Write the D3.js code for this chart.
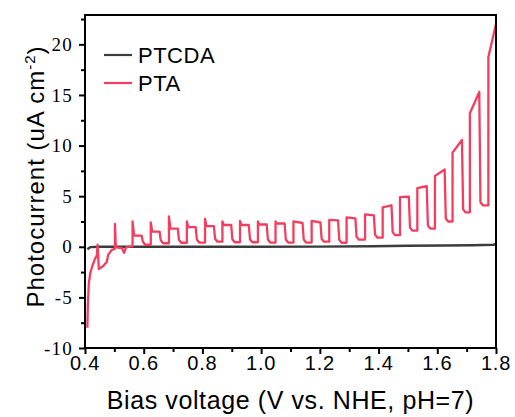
<!DOCTYPE html>
<html>
<head>
<meta charset="utf-8">
<script src="https://cdn.jsdelivr.net/npm/d3@7"></script>
<style>
  body { margin: 0; background: #fff; }
  svg { display: block; }
</style>
</head>
<body>
<div id="chart"></div>
<script>
// PTCDA dark trace (V, uA cm-2)
const ptcdaV = [0.408, 0.418, 0.45, 0.8, 1.2, 1.38, 1.5, 1.62, 1.72, 1.79, 1.8];
const ptcdaI = [-0.25, -0.03, 0.0, 0.0, 0.02, 0.05, 0.1, 0.12, 0.15, 0.2, 0.25];

// PTA: irregular start before the regular chopping
const ptaStartV = [0.408, 0.410, 0.413, 0.418, 0.425, 0.434, 0.440, 0.443, 0.447, 0.462, 0.474, 0.479, 0.491, 0.502, 0.502, 0.505, 0.513, 0.525, 0.533, 0.539, 0.553];
const ptaStartI = [-8.0, -5.5, -3.6, -2.6, -1.9, -1.2, -0.9, 0.2, -2.2, -1.9, -1.5, -0.8, -0.3, -0.2, 2.27, 0.0, -0.1, -0.1, -0.6, -0.1, 0.05];

// PTA chopped pulses: light on / off voltage, spike, current before off, dark current after
const pulseOn = [0.562, 0.624, 0.686, 0.747, 0.809, 0.868, 0.928, 0.989, 1.049, 1.110, 1.172, 1.232, 1.291, 1.354, 1.414, 1.473, 1.532, 1.592, 1.652, 1.711, 1.774];
const pulseOff = [0.593, 0.654, 0.716, 0.777, 0.839, 0.898, 0.958, 1.019, 1.080, 1.141, 1.202, 1.262, 1.321, 1.384, 1.444, 1.503, 1.564, 1.625, 1.684, 1.743, 1.8];
const pulsePeak = [2.5, 2.4, 3.0, 2.5, 2.75, 2.5, 2.55, 2.5, 2.5, 2.5, 2.55, 2.65, 2.9, 3.2, 3.9, 4.9, 5.8, 7.0, 9.3, 13.2, 18.75];
const pulseEnd = [1.1, 1.5, 1.8, 1.95, 2.05, 2.15, 2.15, 2.2, 2.3, 2.35, 2.4, 2.6, 2.8, 3.1, 4.1, 4.95, 6.0, 7.65, 10.55, 15.3, 22.0];
const pulseDark = [0.2, 0.35, 0.4, 0.42, 0.5, 0.45, 0.45, 0.42, 0.42, 0.42, 0.5, 0.4, 0.7, 0.9, 1.15, 1.6, 1.8, 2.5, 3.4, 4.1, null];

const xTicks = [0.4, 0.6, 0.8, 1.0, 1.2, 1.4, 1.6, 1.8];
const yTicks = [-10, -5, 0, 5, 10, 15, 20];

const width = 515, height = 417;
const margin = { top: 15, right: 19, bottom: 69, left: 85 };
const innerW = width - margin.left - margin.right;
const innerH = height - margin.top - margin.bottom;

const svg = d3.select("#chart").append("svg")
  .attr("width", width)
  .attr("height", height);

const g = svg.append("g")
  .attr("transform", `translate(${margin.left},${margin.top})`);

const x = d3.scaleLinear().domain([0.4, 1.8]).range([0, innerW]);
const y = d3.scaleLinear().domain([-10, 22.9]).range([innerH, 0]);

// build point tables
const ptcda = ptcdaV.map((v, i) => [v, ptcdaI[i]]);
const pta = ptaStartV.map((v, i) => [v, ptaStartI[i]]);
pulseOn.forEach((on, i) => {
  const prevDark = i === 0 ? ptaStartI[ptaStartI.length - 1] : pulseDark[i - 1];
  pta.push([on, prevDark]);
  pta.push([on, pulsePeak[i]]);
  if (pulsePeak[i] > pulseEnd[i] + 0.15) pta.push([on + 0.005, pulseEnd[i]]);
  pta.push([pulseOff[i], pulseEnd[i]]);
  if (pulseDark[i] != null) {
    pta.push([pulseOff[i] + 0.004, pulseDark[i] + 0.3]);
    pta.push([pulseOff[i] + 0.012, pulseDark[i]]);
  }
});

g.append("clipPath").attr("id", "clip")
  .append("rect").attr("width", innerW).attr("height", innerH);

const line = d3.line().x((d) => x(d[0])).y((d) => y(d[1]));

const plot = g.append("g").attr("clip-path", "url(#clip)");

plot.append("path")
  .datum(ptcda)
  .attr("fill", "none")
  .attr("stroke", "#3c3c3c")
  .attr("stroke-width", 2.4)
  .attr("d", line);

plot.append("path")
  .datum(pta)
  .attr("fill", "none")
  .attr("stroke", "#f43d5f")
  .attr("stroke-width", 2.3)
  .attr("stroke-linejoin", "round")
  .attr("d", line);

// axes
const xAxis = g.append("g")
  .attr("transform", `translate(0,${innerH})`)
  .call(d3.axisBottom(x).tickValues(d3.range(0.4, 1.81, 0.1)).tickSize(5).tickFormat(""));
xAxis.selectAll(".tick line")
  .attr("y2", (d, i) => (i % 2 === 0 ? 6 : 4));

const yAxis = g.append("g")
  .call(d3.axisLeft(y).tickValues(d3.range(-10, 22.6, 2.5)).tickSize(5).tickFormat(""));
yAxis.selectAll(".tick line")
  .attr("x2", (d, i) => (i % 2 === 0 ? -6 : -4));

g.selectAll(".domain").remove();
g.selectAll(".tick line").attr("stroke", "#000").attr("stroke-width", 2);

// frame
g.append("rect")
  .attr("width", innerW)
  .attr("height", innerH)
  .attr("fill", "none")
  .attr("stroke", "#000")
  .attr("stroke-width", 2);

// tick labels
g.selectAll(".xlab")
  .data(xTicks)
  .enter()
  .append("text")
  .attr("class", "xlab")
  .attr("x", (d) => x(d))
  .attr("y", innerH + 22)
  .attr("text-anchor", "middle")
  .style("font-family", "Liberation Sans, Arial, sans-serif")
  .style("font-size", "20px")
  .style("letter-spacing", "0.8px")
  .text((d) => d.toFixed(1));

g.selectAll(".ylab")
  .data(yTicks)
  .enter()
  .append("text")
  .attr("class", "ylab")
  .attr("x", -12)
  .attr("y", (d) => y(d))
  .attr("dy", "0.35em")
  .attr("text-anchor", "end")
  .style("font-family", "Liberation Serif, Times New Roman, serif")
  .style("font-size", "19px")
  .style("letter-spacing", "1.2px")
  .text((d) => d);

// axis titles
svg.append("text")
  .attr("x", margin.left + innerW / 2)
  .attr("y", 409)
  .attr("text-anchor", "middle")
  .style("font-family", "Liberation Sans, Arial, sans-serif")
  .style("font-size", "25px")
  .style("letter-spacing", "0.6px")
  .text("Bias voltage (V vs. NHE, pH=7)");

const yTitle = svg.append("text")
  .attr("transform", `translate(44,${margin.top + innerH / 2 - 5}) rotate(-90)`)
  .attr("text-anchor", "middle")
  .style("font-family", "Liberation Sans, Arial, sans-serif")
  .style("font-size", "24px")
  .style("letter-spacing", "1px");
yTitle.append("tspan").text("Photocurrent (uA cm");
yTitle.append("tspan").attr("dy", -9).style("font-size", "15px").text("-2");
yTitle.append("tspan").attr("dy", 9).text(")");

// legend
const legendNames = ["PTCDA", "PTA"];
const legendColors = ["#3c3c3c", "#f43d5f"];
const legend = svg.append("g");
legendNames.forEach((name, i) => {
  const ly = 55 + i * 28;
  legend.append("line")
    .attr("x1", 104).attr("x2", 132)
    .attr("y1", ly).attr("y2", ly)
    .attr("stroke", legendColors[i])
    .attr("stroke-width", 2.2);
  legend.append("text")
    .attr("x", 138)
    .attr("y", ly + 8)
    .style("font-family", "Liberation Sans, Arial, sans-serif")
    .style("font-size", "22px")
    .style("letter-spacing", "0.5px")
    .text(name);
});
</script>
</body>
</html>
